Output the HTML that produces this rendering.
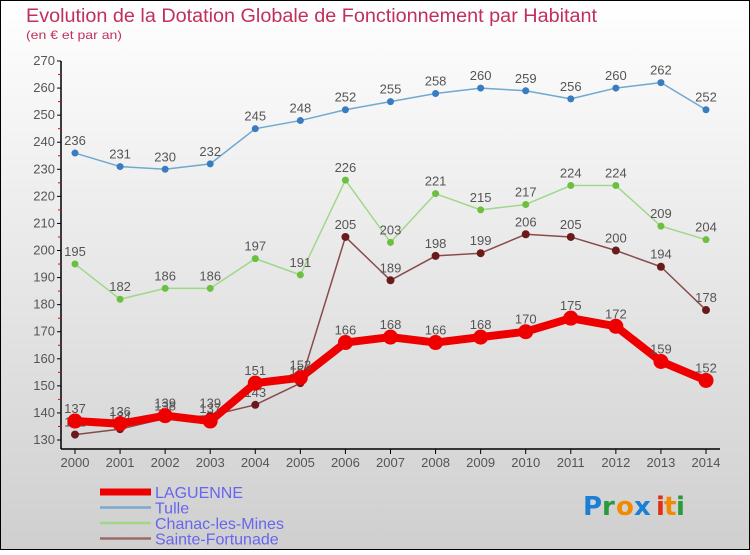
<!DOCTYPE html>
<html><head><meta charset="utf-8"><style>
html,body{margin:0;padding:0;}
body{width:750px;height:550px;overflow:hidden;font-family:"Liberation Sans",sans-serif;}
</style></head><body>
<svg id="chart" width="750" height="550" xmlns="http://www.w3.org/2000/svg">
<defs><linearGradient id="bg" x1="0" y1="0" x2="0" y2="1"><stop offset="0" stop-color="#ffffff"/><stop offset="1" stop-color="#cfcfcf"/></linearGradient></defs>
<rect x="0.5" y="0.5" width="749" height="549" fill="url(#bg)" stroke="#000" stroke-width="1"/>
<text x="26" y="22" font-size="19" fill="#c0305a" textLength="571" lengthAdjust="spacingAndGlyphs">Evolution de la Dotation Globale de Fonctionnement par Habitant</text>
<text x="26" y="39" font-size="12" fill="#c0305a" textLength="96" lengthAdjust="spacingAndGlyphs">(en € et par an)</text>
<g id="axes"></g><g id="series"></g><g id="legend"></g>
<g font-size="26" font-weight="bold" font-family="'DejaVu Sans',sans-serif">
<text x="583" y="515" fill="#1a7fd6">P</text><text x="602" y="515" fill="#2a9a3a">r</text><text x="616" y="515" fill="#f08a00">o</text><text x="634" y="515" fill="#1a7fd6">x</text><text x="656" y="515" fill="#e03010">i</text><text x="664" y="515" fill="#f08a00">t</text><text x="676" y="515" fill="#2a9a3a">i</text>
</g>
</svg>
<script>
const years=[2000,2001,2002,2003,2004,2005,2006,2007,2008,2009,2010,2011,2012,2013,2014];
const laguenne=[137,136,139,137,151,153,166,168,166,168,170,175,172,159,152];
const tulle=[236,231,230,232,245,248,252,255,258,260,259,256,260,262,252];
const chanac=[195,182,186,186,197,191,226,203,221,215,217,224,224,209,204];
const sainte=[132,134,138,139,143,151,205,189,198,199,206,205,200,194,178];
const yTicks=[130,140,150,160,170,180,190,200,210,220,230,240,250,260,270];
const NS="http://www.w3.org/2000/svg";
const x=i=>75+i*(706-75)/14;
const y=v=>440-(v-130)*(440-61)/140;
function mk(tag,attrs,parent){const e=document.createElementNS(NS,tag);for(const k in attrs)e.setAttribute(k,attrs[k]);parent.appendChild(e);return e;}
const axes=document.getElementById('axes');
mk('line',{x1:61,y1:61,x2:61,y2:449,stroke:'#000','stroke-width':1.5},axes);
mk('line',{x1:61,y1:449,x2:720,y2:449,stroke:'#000','stroke-width':1.5},axes);
yTicks.forEach(v=>{
  const t=mk('line',{x1:57,y1:y(v),x2:61,y2:y(v),stroke:'#000'},axes);
  
  
  if(v<270){mk('line',{x1:58,y1:y(v+5),x2:61,y2:y(v+5),stroke:'#e00'},axes);}
  const l=mk('text',{x:55,y:y(v)+4,'font-size':13,fill:'#555','text-anchor':'end'},axes);
  l.textContent=v;
  
  
});
years.forEach((yr,i)=>{
  mk('line',{x1:x(i),y1:449,x2:x(i),y2:454,stroke:'#000'},axes);
  const l=mk('text',{x:x(i),y:467,'font-size':13,fill:'#555','text-anchor':'middle'},axes);
  l.textContent=yr;
  
  
});
const seriesG=document.getElementById('series');
function draw(name,data,color,dot,w,r){
  const g=mk('g',{},seriesG);
  
  
  const p=mk('polyline',{points:data.map((v,i)=>x(i)+','+y(v)).join(' '),fill:'none',stroke:color,'stroke-width':w,'stroke-linejoin':'round'},g);
  
  data.forEach((v,i)=>{
    const c=mk('circle',{cx:x(i),cy:y(v),r:r,fill:dot},g);
    
    
    const t=mk('text',{x:x(i),y:y(v)-8,'font-size':13,fill:'#555','text-anchor':'middle'},g);
    t.textContent=v;
    
    
  });
}
draw('tulle',tulle,'#6fa8d0','#3a7cc0',1.5,3.5);
draw('chanac',chanac,'#a0d88a','#6cc040',1.5,3.5);
draw('sainte-fortunade',sainte,'#8a4a4a','#6a1a1a',1.5,4);
draw('laguenne',laguenne,'#ee0000','#ee0000',8,7.5);
const leg=document.getElementById('legend');
[['LAGUENNE','#ee0000',7],['Tulle','#7aaad0',2.5],['Chanac-les-Mines','#a0d88a',2.5],['Sainte-Fortunade','#9a6a6a',2.5]].forEach((d,i)=>{
  const g=mk('g',{},leg);
  
  
  const yy=492+i*15.5;
  mk('line',{x1:100,y1:yy,x2:151,y2:yy,stroke:d[1],'stroke-width':d[2]},g);
  const t=mk('text',{x:155,y:yy+6,'font-size':16,fill:'#6666ee'},g);
  t.textContent=d[0];
});
</script>
</body></html>
